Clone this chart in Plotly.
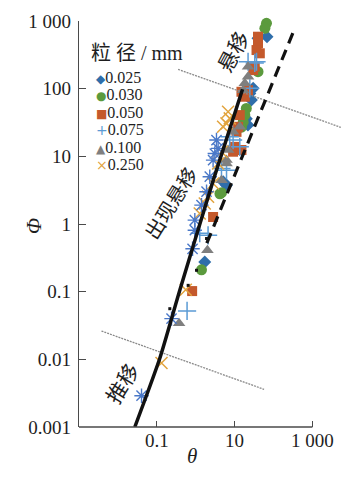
import math
import plotly.graph_objects as go

# ---------------- data ----------------
size_labels = ["0.025", "0.030", "0.050", "0.075", "0.100", "0.250"]

theta_025 = [68, 40, 30, 27, 24.6, 20, 22, 6.2, 5.1, 1.71]
phi_025 = [586, 555, 101, 68, 85, 36, 29, 3.75, 4.2, 0.275]

theta_030 = [66, 60, 40, 20, 18.3, 16.6, 15, 4.2, 4.6, 1.41]
phi_030 = [925, 780, 178, 51, 40.7, 32, 27, 2.8, 2.9, 0.21]

theta_050 = [40, 40, 36.6, 44.5, 33, 30, 22, 15, 18.3, 13.6, 12.3, 11.2, 10.1, 9.15, 15, 2.8, 0.81]
phi_050 = [586, 468, 372, 333, 211, 188, 95, 90, 76, 40.7, 27.3, 23, 13.8, 11.7, 12.4, 1.27, 0.102]

theta_075 = [36.6, 33, 22.2, 24.6, 7.5, 9.15, 13.6, 4.6, 6.2, 2.08, 1.27, 0.60]
phi_075 = [250, 240, 250, 101, 19.4, 17.4, 13.8, 6.6, 6.25, 0.68, 0.73, 0.052]

theta_100 = [22.2, 22.2, 18.3, 16.6, 13.6, 9.15, 6.8, 6.2, 6.2, 4.6, 2.0, 0.374]
phi_100 = [211, 150, 120, 95, 27.3, 23, 12.4, 8.8, 7.85, 4.45, 0.41, 0.034]

theta_250 = [6.8, 7.5, 6.2, 5.06, 4.6, 3.77, 2.8, 2.08, 1.71, 1.27, 0.556, 0.132]
phi_250 = [45.5, 36.4, 30.7, 27.3, 11.7, 7.85, 3.97, 2.52, 2.01, 1.43, 0.107, 0.0088]

# unlabeled blue asterisk series (not in the legend of the original)
theta_star = [3.42, 3.77, 3.1, 2.8, 2.3, 1.9, 1.41, 0.95, 0.95, 0.83, 0.239, 0.0405]
phi_star = [17.4, 13.1, 11.0, 8.8, 5.0, 3.0, 1.9, 1.14, 0.81, 0.43, 0.040, 0.0029]

# small black points
theta_black = [0.216, 0.64, 1.05, 1.9]
phi_black = [0.056, 0.124, 0.207, 0.61]

# fitted curve (solid) and suspension criterion (dashed)
theta_fit = [0.0272, 0.119, 0.39, 2.83, 16]
phi_fit = [0.001, 0.0103, 0.105, 4.45, 98]
theta_dash = [1.93, 353]
phi_dash = [0.52, 780]

# regime boundaries (dotted)
theta_upper = [0.353, 5370]
phi_upper = [193, 26.8]
theta_lower = [0.00379, 57.3]
phi_lower = [0.0262, 0.0036]

x_tickvals = [0.1, 10, 1000]
x_ticktext = ["0.1", "10", "1 000"]
y_tickvals = [0.001, 0.01, 0.1, 1, 10, 100, 1000]
y_ticktext = ["0.001", "0.01", "0.1", "1", "10", "100", "1 000"]

# ---------------- styling ----------------
W, H = 341, 479
ML, MR, MT, MB = 79, 0, 21, 52
x_range = [-3, -3 + (W - ML - MR) / 38.9]
y_range = [-3, 3]

SERIF = "Liberation Serif, 'Times New Roman', 'Noto Sans CJK SC', serif"
CJK = "'Noto Sans CJK SC', 'Liberation Serif', serif"
AX = "#4a4a4a"
TXT = "#1e1e1e"

styles = [
    dict(symbol="diamond", color="#2f6eaa", size=10, line=dict(width=0)),
    dict(symbol="circle", color="#5b9a3d", size=11, line=dict(width=0)),
    dict(symbol="square", color="#c4592c", size=10, line=dict(width=0)),
    dict(symbol="cross-thin-open", color="#5b9bd5", size=13, line=dict(width=1.5, color="#5b9bd5")),
    dict(symbol="triangle-up", color="#7f7f7f", size=11, line=dict(width=0)),
    dict(symbol="x-thin-open", color="#e2a43e", size=12, line=dict(width=1.5, color="#e2a43e")),
]
series = [(theta_025, phi_025), (theta_030, phi_030), (theta_050, phi_050),
          (theta_075, phi_075), (theta_100, phi_100), (theta_250, phi_250)]

fig = go.Figure()
for lab, (tx, py), st in zip(size_labels, series, styles):
    fig.add_trace(go.Scatter(x=tx, y=py, mode="markers", name=lab, showlegend=False,
                             marker=st, cliponaxis=False))

fig.add_trace(go.Scatter(x=theta_star, y=phi_star, mode="markers", showlegend=False,
                         marker=dict(symbol="asterisk-open", size=12, color="#4a78c8",
                                     line=dict(width=1.4, color="#4a78c8"))))
fig.add_trace(go.Scatter(x=theta_black, y=phi_black, mode="markers", showlegend=False,
                         marker=dict(symbol="square", size=3, color="#111")))

fig.add_trace(go.Scatter(x=theta_lower, y=phi_lower, mode="lines", showlegend=False,
                         line=dict(color="#8a8a8a", width=1.3, dash="2px,1px")))
fig.add_trace(go.Scatter(x=theta_upper, y=phi_upper, mode="lines", showlegend=False,
                         line=dict(color="#8a8a8a", width=1.3, dash="2px,1px")))
fig.add_trace(go.Scatter(x=theta_dash, y=phi_dash, mode="lines", showlegend=False,
                         line=dict(color="#111", width=3.2, dash="11px,7px")))
fig.add_trace(go.Scatter(x=theta_fit, y=phi_fit, mode="lines", showlegend=False,
                         line=dict(color="#111", width=3.5, shape="spline", smoothing=0.6)))

fig.update_xaxes(type="log", range=x_range, showgrid=False, zeroline=False,
                 showline=False, ticks="inside", ticklen=6, tickwidth=1.3, tickcolor=AX,
                 tickvals=x_tickvals, ticktext=x_ticktext,
                 tickfont=dict(family=SERIF, size=19, color=TXT))
fig.update_yaxes(type="log", range=y_range, showgrid=False, zeroline=False,
                 showline=True, linecolor=AX, linewidth=1.3,
                 ticks="inside", ticklen=7, tickwidth=1.3, tickcolor=AX,
                 tickvals=y_tickvals, ticktext=y_ticktext, ticklabelstandoff=3,
                 tickfont=dict(family=SERIF, size=19, color=TXT))

# x axis line only up to 1 000
x_end_frac = (math.log10(1000) - x_range[0]) / (x_range[1] - x_range[0])
fig.add_shape(type="line", xref="x domain", yref="y domain", x0=0, x1=x_end_frac, y0=0, y1=0,
              line=dict(color=AX, width=1.3))

def px_x(px):
    return (px - ML) / (W - ML - MR)

def px_y(py):
    return (H - MB - py) / (H - MT - MB)

ann = []
# axis titles
ann.append(dict(text="<i>θ</i>", xref="paper", yref="paper", x=px_x(191.5), y=px_y(470),
                showarrow=False, font=dict(family=SERIF, size=21, color=TXT)))
ann.append(dict(text="<i>Φ</i>", xref="paper", yref="paper", x=px_x(20), y=px_y(226),
                showarrow=False, textangle=-90, font=dict(family=SERIF, size=21, color=TXT)))

# region labels (data-positioned)
ann.append(dict(text="悬移", x=math.log10(8.7), y=math.log10(362), showarrow=False,
                textangle=-62, font=dict(family=CJK, size=21, color=TXT)))
ann.append(dict(text="出现悬移", x=math.log10(0.22), y=math.log10(2.1), showarrow=False,
                textangle=-58, font=dict(family=CJK, size=20, color=TXT)))
ann.append(dict(text="推移", x=math.log10(0.0124), y=math.log10(0.0044), showarrow=False,
                textangle=-58, font=dict(family=CJK, size=21, color=TXT)))

# legend (drawn manually for its tight line spacing): key glyph + label in one text
ann.append(dict(text="粒 径 / mm", xref="paper", yref="paper", x=px_x(89), y=px_y(40),
                xanchor="left", showarrow=False,
                font=dict(family=SERIF, size=20, color=TXT)))
glyphs = ["◆", "●", "■", "+", "▲", "×"]
glyph_sizes = [12, 12, 12, 14, 12, 14]
for i, (lab, g, gs, st) in enumerate(zip(size_labels, glyphs, glyph_sizes, styles)):
    yc = 67.5 + 17.6 * i
    key = (f"<span style='color:{st['color']};font-family:DejaVu Sans;"
           f"font-size:{gs}px'>{g}</span>")
    ann.append(dict(text=key + lab, xref="paper", yref="paper", x=px_x(95),
                    y=px_y(yc), xanchor="left", showarrow=False, borderpad=0,
                    font=dict(family=SERIF, size=16, color=TXT)))

fig.update_layout(width=W, height=H, margin=dict(l=ML, r=MR, t=MT, b=MB),
                  paper_bgcolor="white", plot_bgcolor="white", showlegend=False,
                  annotations=ann)

fig.write_html("out.html")
